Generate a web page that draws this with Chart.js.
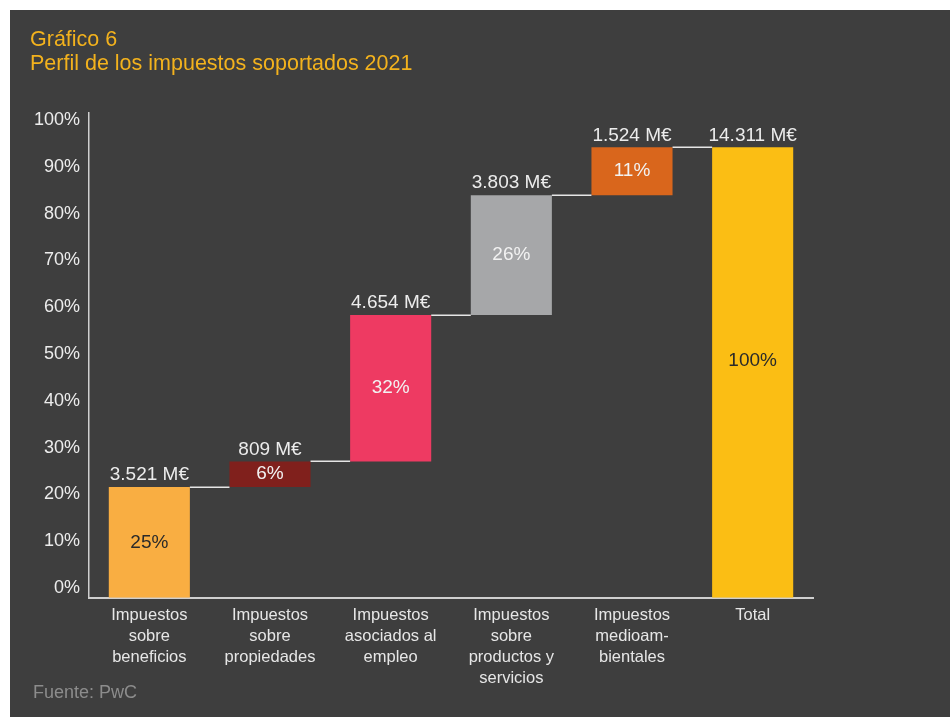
<!DOCTYPE html>
<html lang="es">
<head>
<meta charset="utf-8">
<title>Perfil de los impuestos soportados 2021</title>
<script src="https://cdn.jsdelivr.net/npm/chart.js@4/dist/chart.umd.min.js"></script>
<style>
  html, body { margin: 0; padding: 0; background: #ffffff; }
  #wrap { width: 950px; height: 717px; }
</style>
</head>
<body>
<div id="wrap"><canvas id="chart" width="950" height="717"></canvas></div>
<script>
// Categorías del gráfico en cascada (etiquetas en varias líneas)
const categories = [
  ['Impuestos', 'sobre', 'beneficios'],
  ['Impuestos', 'sobre', 'propiedades'],
  ['Impuestos', 'asociados al', 'empleo'],
  ['Impuestos', 'sobre', 'productos y', 'servicios'],
  ['Impuestos', 'medioam-', 'bientales'],
  ['Total']
];

// Importe de cada tipo de impuesto, en millones de euros
const amounts = [3521, 809, 4654, 3803, 1524];
const totalAmount = 14311;

// Peso de cada bloque sobre el total, en %
const shares = [25, 6, 32, 26, 11, 100];

// Marcas del eje vertical, en %
const pctTicks = [0, 10, 20, 30, 40, 50, 60, 70, 80, 90, 100];

const barColors = ['#F9AE42', '#80201C', '#EE3A62', '#A6A7A9', '#D9661C', '#FBBE14'];
const shareColors = ['#2a2a2a', '#f2f2f2', '#f2f2f2', '#f2f2f2', '#f2f2f2', '#2a2a2a'];

const FONT = '"Liberation Sans", Arial, Helvetica, sans-serif';
const TEXT = '#ececec';

// Tramos flotantes [inicio, fin] acumulando los importes
const running = [];
const floating = [];
let acc = 0;
amounts.forEach(v => { floating.push([acc, acc + v]); acc += v; running.push(acc); });
floating.push([0, totalAmount]);
const barValues = amounts.concat([totalAmount]);

function fmtMillions(n) {
  return String(n).replace(/\B(?=(\d{3})+(?!\d))/g, '.') + ' M€';
}

const decor = {
  id: 'waterfallDecor',
  beforeDraw(chart) {
    const ctx = chart.ctx;
    ctx.save();
    ctx.fillStyle = '#ffffff';
    ctx.fillRect(0, 0, chart.width, chart.height);
    ctx.fillStyle = '#3e3e3e';
    ctx.fillRect(10, 10, chart.width - 10, chart.height - 10);

    ctx.fillStyle = '#F3B21D';
    ctx.font = '21.5px ' + FONT;
    ctx.textAlign = 'left';
    ctx.textBaseline = 'alphabetic';
    ctx.fillText('Gráfico 6', 30, 46);
    ctx.fillText('Perfil de los impuestos soportados 2021', 30, 70);

    ctx.fillStyle = '#8c8c8c';
    ctx.font = '18px ' + FONT;
    ctx.fillText('Fuente: PwC', 33, 698);
    ctx.restore();
  },
  afterDatasetsDraw(chart) {
    const ctx = chart.ctx;
    const y = chart.scales.y;
    const bars = chart.getDatasetMeta(0).data;
    ctx.save();

    // Conectores entre bloques consecutivos
    ctx.strokeStyle = '#e6e6e6';
    ctx.lineWidth = 1.5;
    for (let i = 0; i < bars.length - 1; i++) {
      const level = i < running.length ? running[i] : totalAmount;
      const py = Math.round(y.getPixelForValue(level)) + 0.25;
      const x0 = bars[i].x + bars[i].width / 2;
      const x1 = bars[i + 1].x - bars[i + 1].width / 2;
      ctx.beginPath();
      ctx.moveTo(x0, py);
      ctx.lineTo(x1, py);
      ctx.stroke();
    }

    // Importes sobre cada bloque y porcentaje dentro
    ctx.textAlign = 'center';
    ctx.textBaseline = 'middle';
    bars.forEach((bar, i) => {
      const top = Math.min(bar.y, bar.base);
      const bottom = Math.max(bar.y, bar.base);
      ctx.fillStyle = TEXT;
      ctx.font = '19px ' + FONT;
      ctx.fillText(fmtMillions(barValues[i]), bar.x, top - 12);

      const isTotal = i === bars.length - 1;
      const midY = isTotal
        ? y.getPixelForValue(totalAmount * 0.525)
        : (top + bottom) / 2;
      ctx.fillStyle = shareColors[i];
      ctx.font = '19px ' + FONT;
      ctx.fillText(shares[i] + '%', bar.x, midY);
    });
    ctx.restore();
  }
};

new Chart(document.getElementById('chart'), {
  type: 'bar',
  data: {
    labels: categories,
    datasets: [{
      data: floating,
      backgroundColor: barColors,
      borderWidth: 0,
      borderSkipped: false,
      categoryPercentage: 1,
      barPercentage: 0.672
    }]
  },
  options: {
    responsive: false,
    devicePixelRatio: 1,
    animation: false,
    layout: { padding: { left: 0, top: 113, right: 137, bottom: 0 } },
    plugins: {
      legend: { display: false },
      tooltip: { enabled: false }
    },
    scales: {
      x: {
        grid: { display: false, drawTicks: false },
        border: { display: true, color: '#cfcfcf', width: 2 },
        ticks: {
          color: '#e6e6e6',
          font: { family: FONT, size: 16.5, lineHeight: 1.27 },
          padding: 7,
          maxRotation: 0,
          autoSkip: false
        },
        afterFit(scale) { scale.height = 119.3; }
      },
      y: {
        display: false,
        min: 0,
        max: 15400
      },
      yPct: {
        position: 'left',
        min: -2.07,
        max: 101.5,
        grid: { display: false, drawTicks: false },
        border: { display: true, color: '#cfcfcf', width: 1.5 },
        ticks: {
          color: TEXT,
          font: { family: FONT, size: 18 },
          padding: 9,
          callback: v => v + '%'
        },
        afterBuildTicks(scale) {
          scale.ticks = pctTicks.map(v => ({ value: v }));
        },
        afterFit(scale) { scale.width = 89; }
      }
    }
  },
  plugins: [decor]
});
</script>
</body>
</html>
